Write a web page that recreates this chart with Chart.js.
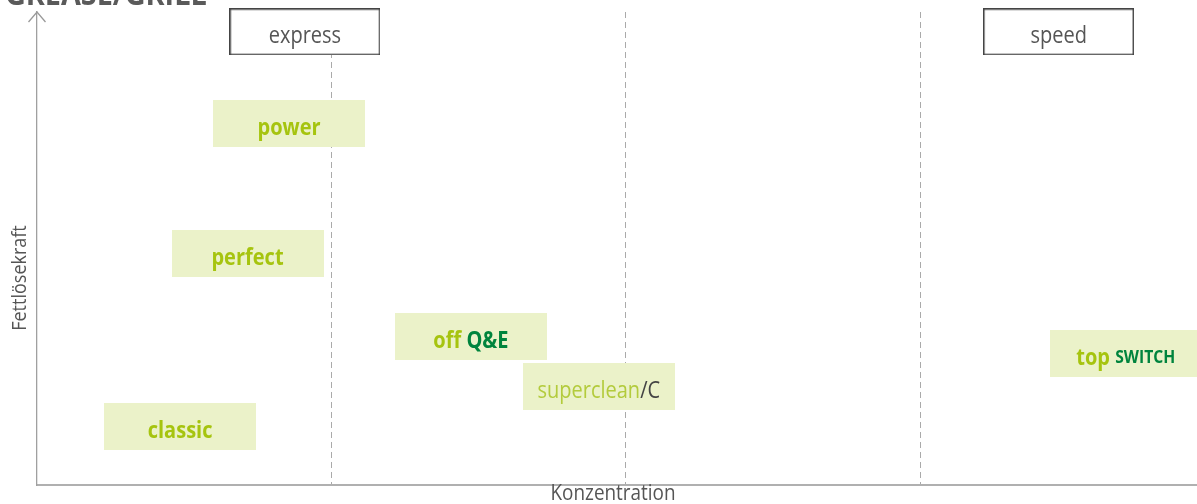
<!DOCTYPE html>
<html><head><meta charset="utf-8">
<script src="https://cdn.jsdelivr.net/npm/chart.js@4"></script>
<style>html,body{margin:0;padding:0;background:#fff;overflow:hidden}#wrap{width:1197px;height:504px;position:relative}</style>
</head><body><div id="wrap"><canvas id="c" width="1197" height="504"></canvas></div>
<script>
// ---- data ----
const chartTitle = 'GREASE/GRILL';
const xAxisTitle = 'Konzentration';
const yAxisTitle = 'Fettlösekraft';
const productNames = ['power', 'perfect', 'off Q&E', 'superclean/C', 'classic', 'top SWITCH'];
const productX = [0.856, 0.715, 1.474, 1.908, 0.486, 3.698];
const productY = [76.4, 48.9, 31.4, 20.8, 12.4, 27.9];
const lineNames = ['express', 'speed'];
const lineX = [0.91, 3.47];
const lineY = [95.8, 95.8];
const xGridTicks = [1, 2, 3];

// ---- styling ----
const LIME = '#a6c40f', DARK_GREEN = '#00843d', LIGHT_LIME = '#b3cb3c', GREY_TXT = '#555555';
const FONT = '"Open Sans", "DejaVu Sans", sans-serif';
const SQUEEZE = 0.87;
const labelRuns = {
  'power': [['power', LIME, 'bold']],
  'perfect': [['perfect', LIME, 'bold']],
  'off Q&E': [['off ', LIME, 'bold'], ['Q&E', DARK_GREEN, 'bold']],
  'superclean/C': [['superclean', LIGHT_LIME, 'normal'], ['/C', '#444444', 'normal']],
  'classic': [['classic', LIME, 'bold']],
  'top SWITCH': [['top ', LIME, 'bold'], ['SWITCH', DARK_GREEN, 'bold', 18]],
};

function boxImage(w, h, fill, stroke) {
  const cv = document.createElement('canvas');
  cv.width = w; cv.height = h;
  const g = cv.getContext('2d');
  g.fillStyle = fill; g.fillRect(0, 0, w, h);
  if (stroke) { g.strokeStyle = stroke; g.lineWidth = 1.5; g.strokeRect(0.75, 0.75, w - 1.5, h - 1.5); }
  return cv;
}
const productBox = boxImage(152, 47, '#ebf2c9');
const lineBox = boxImage(151, 47, '#ffffff', '#444444');

const labelPlugin = {
  id: 'labels',
  afterDatasetsDraw(chart) {
    const ctx = chart.ctx;
    chart.data.datasets.forEach((ds, di) => {
      const meta = chart.getDatasetMeta(di);
      meta.data.forEach((pt, i) => {
        const name = ds.names[i];
        const runs = labelRuns[name] || [[name, GREY_TXT, 'normal']];
        ctx.save();
        ctx.textBaseline = 'middle';
        ctx.textAlign = 'left';
        let total = 0;
        const widths = runs.map(r => { ctx.font = `${r[2]} ${r[3] || 23}px ${FONT}`; const w = ctx.measureText(r[0]).width; total += w; return w; });
        ctx.translate(pt.x, pt.y + 5);
        ctx.scale(SQUEEZE, 1);
        let x = -total / 2;
        runs.forEach((r, k) => {
          ctx.font = `${r[2]} ${r[3] || 23}px ${FONT}`;
          ctx.fillStyle = r[1];
          ctx.fillText(r[0], x, 0);
          x += widths[k];
        });
        ctx.restore();
      });
    });
  },
  afterDraw(chart) {
    const ctx = chart.ctx, a = chart.chartArea;
    ctx.save();
    // arrow head on y axis
    ctx.strokeStyle = '#999999'; ctx.lineWidth = 1.3;
    ctx.beginPath();
    ctx.moveTo(a.left - 8.5, a.top + 10); ctx.lineTo(a.left, a.top); ctx.lineTo(a.left + 8.5, a.top + 10);
    ctx.stroke();
    // axis titles
    ctx.fillStyle = GREY_TXT;
    ctx.textAlign = 'center'; ctx.textBaseline = 'middle';
    ctx.save();
    ctx.translate(613, 494); ctx.scale(0.9, 1);
    ctx.font = `normal 21px ${FONT}`;
    ctx.fillText(xAxisTitle, 0, 0);
    ctx.restore();
    ctx.save();
    ctx.translate(20, 278); ctx.rotate(-Math.PI / 2); ctx.scale(0.9, 1);
    ctx.font = `normal 20px ${FONT}`;
    ctx.fillText(yAxisTitle, 0, 0);
    ctx.restore();
    // chart title (mostly cut off at the top)
    ctx.save();
    ctx.translate(5, 5); ctx.scale(0.9, 1);
    ctx.font = `bold 32px ${FONT}`;
    ctx.textAlign = 'left'; ctx.textBaseline = 'alphabetic';
    ctx.fillStyle = '#5a5a5a';
    ctx.fillText(chartTitle, 0, 0);
    ctx.restore();
    ctx.restore();
  }
};

const gridSet = new Set(xGridTicks);
new Chart(document.getElementById('c'), {
  type: 'scatter',
  plugins: [labelPlugin],
  data: {
    datasets: [
      { names: productNames, data: productX.map((x, i) => ({ x, y: productY[i] })), pointStyle: productBox, pointRadius: 20, clip: false },
      { names: lineNames, data: lineX.map((x, i) => ({ x, y: lineY[i] })), pointStyle: lineBox, pointRadius: 20, clip: false }
    ]
  },
  options: {
    responsive: false, animation: false,
    layout: { autoPadding: false, padding: { left: 37, top: 12, right: 0, bottom: 19 } },
    plugins: { legend: { display: false }, tooltip: { enabled: false }, title: { display: false } },
    scales: {
      x: {
        type: 'linear', min: 0, max: 3.94,
        ticks: { display: false, stepSize: 1 },
        grid: { color: ctx => gridSet.has(ctx.tick && ctx.tick.value) ? '#aaaaaa' : 'rgba(0,0,0,0)', lineWidth: 1, drawTicks: false },
        border: { display: true, color: '#b0b0b0', width: 2, dash: [6, 4] }
      },
      y: {
        type: 'linear', min: 0, max: 100,
        ticks: { display: false },
        grid: { display: false, drawTicks: false },
        border: { display: true, color: '#a0a0a0', width: 1.3 }
      }
    }
  }
});
</script></body></html>
